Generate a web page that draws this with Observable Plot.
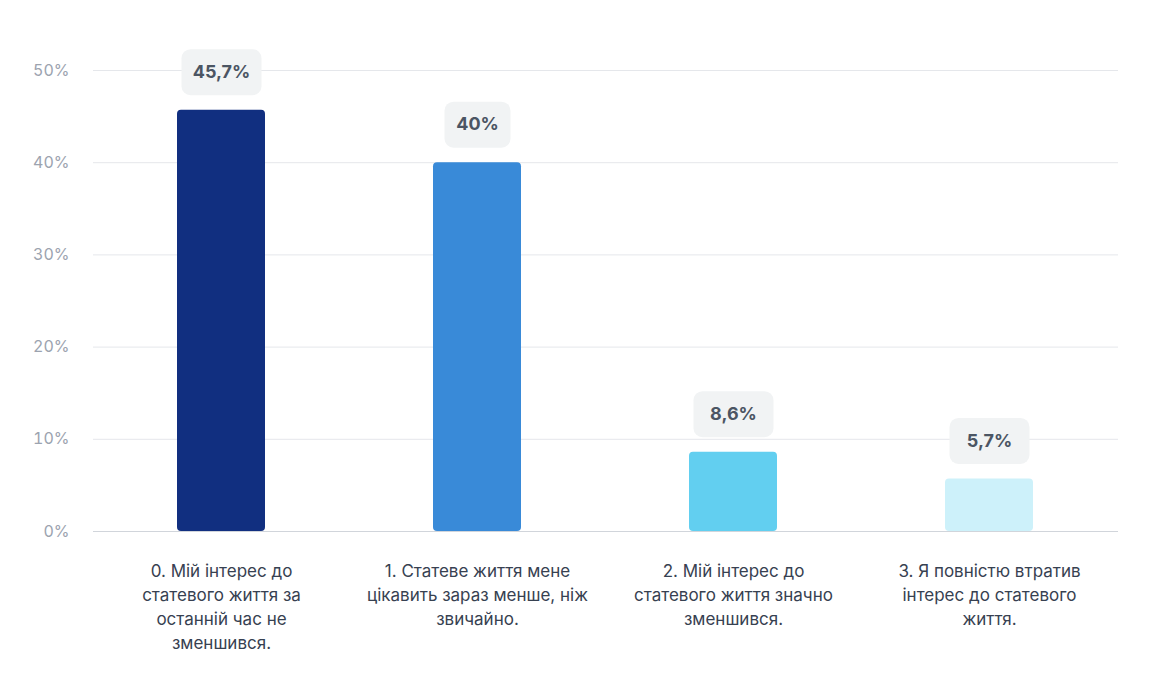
<!DOCTYPE html>
<html><head><meta charset="utf-8">
<script src="https://cdn.jsdelivr.net/npm/d3@7"></script>
<script src="https://cdn.jsdelivr.net/npm/@observablehq/plot@0.6"></script>
<style>body{margin:0;background:#fff;font-family:Inter,sans-serif}</style>
</head><body><div id="c"></div>
<script>
const categories = ["0. Мій інтерес до статевого життя за останній час не зменшився.","1. Статеве життя мене цікавить зараз менше, ніж звичайно.","2. Мій інтерес до статевого життя значно зменшився.","3. Я повністю втратив інтерес до статевого життя."];
const tickLines = [["0. Мій інтерес до","статевого життя за","останній час не","зменшився."],["1. Статеве життя мене","цікавить зараз менше, ніж","звичайно."],["2. Мій інтерес до","статевого життя значно","зменшився."],["3. Я повністю втратив","інтерес до статевого","життя."]];
const values = [45.7, 40, 8.6, 5.7];
const labels = ["45,7%","40%","8,6%","5,7%"];
const colors = ["#112f80","#398ad8","#62cff0","#cdf1fa"];
const data = categories.map((c,i)=>({c, v:values[i], l:labels[i], col:colors[i]}));
function box(w,h,r){return {draw(ctx){const x0=-w/2,y0=-h/2,x1=w/2,y1=h/2;
 ctx.moveTo(x0+r,y0);ctx.lineTo(x1-r,y0);ctx.arcTo(x1,y0,x1,y0+r,r);ctx.lineTo(x1,y1-r);ctx.arcTo(x1,y1,x1-r,y1,r);
 ctx.lineTo(x0+r,y1);ctx.arcTo(x0,y1,x0,y1-r,r);ctx.lineTo(x0,y0+r);ctx.arcTo(x0,y0,x0+r,y0,r);ctx.closePath();}};}
const chart = Plot.plot({
  width:1157, height:674, marginTop:70, marginBottom:143, marginLeft:93, marginRight:39,
  style:{fontFamily:"Inter, sans-serif", background:"#fff"},
  x:{domain:categories, paddingInner:0.656, paddingOuter:0.328, label:null},
  y:{domain:[0,50], ticks:[0,10,20,30,40,50], label:null},
  marks:[
    Plot.gridY({ticks:[10,20,30,40,50], stroke:"#e5e7eb", strokeOpacity:1}),
    Plot.axisY({ticks:[0,10,20,30,40,50], tickSize:0, tickPadding:24, tickFormat:d=>d+"%", fontSize:16, fill:"#9ca3af", label:null}),
    Plot.ruleY([0],{stroke:"#d1d5db"}),
    Plot.barY(data,{x:"c", y:"v", fill:"col", rx:4}),
    Plot.dot(data.filter(d=>d.l.length>3),{x:"c", y:"v", dy:-38, r:10, symbol:box(80,46,9), fill:"#f1f3f4", stroke:null}),
    Plot.dot(data.filter(d=>d.l.length<=3),{x:"c", y:"v", dy:-38, r:10, symbol:box(66,46,9), fill:"#f1f3f4", stroke:null}),
    Plot.text(data,{x:"c", y:"v", text:"l", dy:-38, fontSize:18, fontWeight:"bold", fill:"#4b5563"}),
    Plot.axisX({tickSize:0, tickPadding:28, tickFormat:d=>tickLines[categories.indexOf(d)].join("\n"), lineWidth:Infinity, lineHeight:1.42, fontSize:17, fill:"#374151", label:null, textAnchor:"middle"})
  ]
});
document.getElementById("c").appendChild(chart);
</script></body></html>
